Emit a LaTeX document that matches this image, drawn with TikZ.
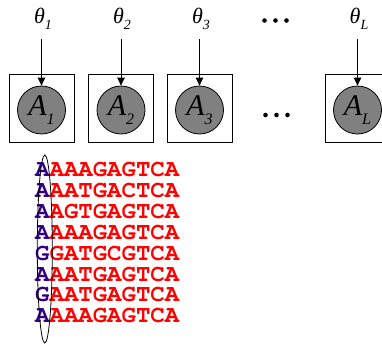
\documentclass[tikz,border=0pt]{standalone}
\usepackage{fontspec}
\setmainfont{Liberation Serif}
\newfontfamily\seqfont{TeX Gyre Cursor}
\usetikzlibrary{arrows.meta}
\definecolor{seqpurple}{HTML}{330080}
\definecolor{seqred}{HTML}{FF0000}
\definecolor{nodegray}{HTML}{808080}
\newcommand{\thlab}[1]{{\fontsize{22}{22}\selectfont\itshape θ\raisebox{-0.28em}{\fontsize{14}{14}\selectfont #1}}}
\newcommand{\alab}[1]{{\fontsize{30}{30}\selectfont\itshape A\raisebox{-0.3em}{\fontsize{16}{16}\selectfont #1}}}
\newcommand{\seqrow}[2]{{\seqfont\bfseries\fontsize{24}{24}\selectfont\textcolor{seqpurple}{#1}\textcolor{seqred}{#2}}}
\tikzset{
  platebox/.style={draw=black, line width=0.8pt, minimum width=65pt, minimum height=68pt, inner sep=0pt},
  varnode/.style={circle, draw=black, line width=0.8pt, fill=nodegray, minimum size=48pt, inner sep=0pt},
  parnode/.style={inner sep=0pt},
  dep/.style={line width=0.8pt, -{Triangle[length=8pt,width=7.5pt]}},
  seqnode/.style={anchor=base west, inner sep=0pt, text height=14pt, text depth=0pt},
  dotmark/.style={circle, fill=black, inner sep=0pt, minimum size=4.6pt}
}
\begin{document}
\begin{tikzpicture}[x=1pt,y=-1pt]
\useasboundingbox (0,0) rectangle (382,343);
\begin{scope}
\clip (0,0) rectangle (382,343);
% plates
\node[platebox] (b1) at (41.5,108) {};
\node[platebox] (b2) at (121,108) {};
\node[platebox] (b3) at (199.5,108) {};
\node[platebox] (bL) at (357.5,108) {};
% variables
\node[varnode] (a1) at (41.5,110) {};
\node[varnode] (a2) at (121,110) {};
\node[varnode] (a3) at (199.5,110) {};
\node[varnode] (aL) at (357.5,110) {};
\node at (a1) {\alab{1}};
\node at (a2) {\alab{2}};
\node at (a3) {\alab{3}};
\node at (aL) {\alab{L}};
% parameters
\node[parnode] (t1) at (43,19) {\thlab{1}};
\node[parnode] (t2) at (122,19) {\thlab{2}};
\node[parnode] (t3) at (201,19) {\thlab{3}};
\node[parnode] (tL) at (359,19) {\thlab{L}};
\coordinate (s1) at (41.5,39);
\coordinate (s2) at (121,39);
\coordinate (s3) at (199.5,39);
\coordinate (sL) at (357.5,39);
\draw[dep] (s1) -- (a1.north);
\draw[dep] (s2) -- (a2.north);
\draw[dep] (s3) -- (a3.north);
\draw[dep] (sL) -- (aL.north);
% dots
\node[dotmark] (d1) at (264.5,20.5) {};
\node[dotmark] (d2) at (275.5,20.5) {};
\node[dotmark] (d3) at (286.5,20.5) {};
\node[dotmark] (e1) at (265.5,115) {};
\node[dotmark] (e2) at (276.5,115) {};
\node[dotmark] (e3) at (287.5,115) {};
% sequences
\node[seqnode] (r1) at (35,176.7) {\seqrow{A}{AAAGAGTCA}};
\node[seqnode] (r2) at (35,197.6) {\seqrow{A}{AATGACTCA}};
\node[seqnode] (r3) at (35,218.4) {\seqrow{A}{AGTGAGTCA}};
\node[seqnode] (r4) at (35,239.3) {\seqrow{A}{AAAGAGTCA}};
\node[seqnode] (r5) at (35,260.1) {\seqrow{G}{GATGCGTCA}};
\node[seqnode] (r6) at (35,281.0) {\seqrow{A}{AATGAGTCA}};
\node[seqnode] (r7) at (35,301.9) {\seqrow{G}{AATGAGTCA}};
\node[seqnode] (r8) at (35,322.7) {\seqrow{A}{AAAGAGTCA}};
% column ellipse
\draw[line width=0.8pt] (44.8,249) ellipse [x radius=7.5, y radius=94];
\end{scope}
\end{tikzpicture}
\end{document}
